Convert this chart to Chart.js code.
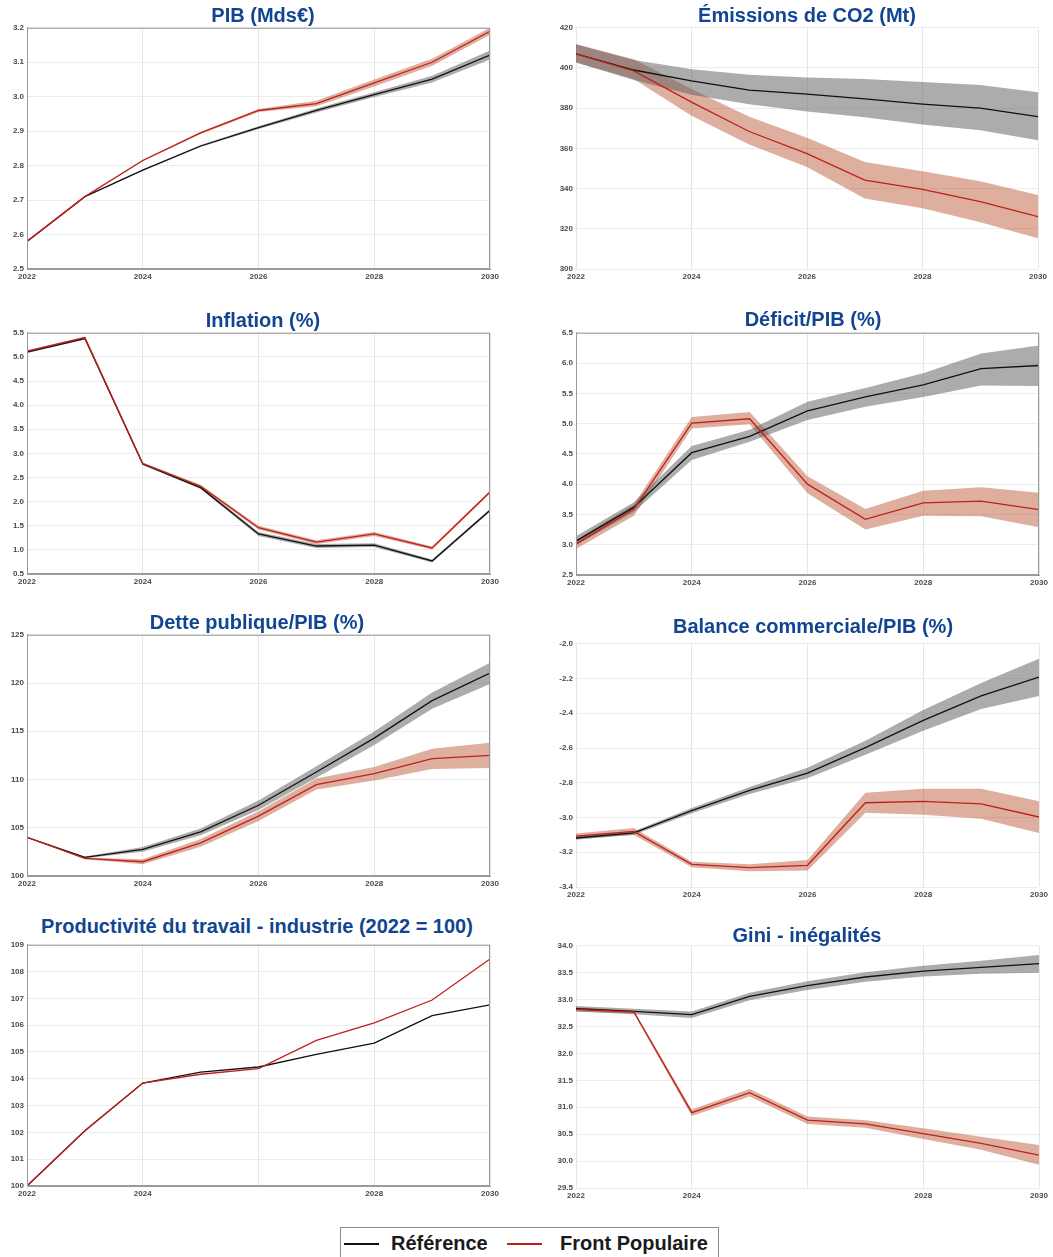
<!DOCTYPE html>
<html>
<head>
<meta charset="utf-8">
<script src="https://cdn.jsdelivr.net/npm/chart.js@4.4.1/dist/chart.umd.min.js"></script>
<style>
  body { margin: 0; background: #fff; }
  #page { position: relative; width: 1053px; height: 1257px; overflow: hidden; background: #fff; }
  .panel { position: absolute; }
  .title { position: absolute; font-family: "Liberation Sans Narrow", "Liberation Sans", sans-serif; font-weight: bold;
           font-size: 20px; line-height: 21px; color: #114592; white-space: nowrap; transform: translateX(-50%); }
  #legend { position: absolute; left: 340px; top: 1227px; width: 377px; height: 34px; border: 1px solid #8a8a8a;
            font-family: "Liberation Sans Narrow", "Liberation Sans", sans-serif; font-weight: bold; font-size: 20px; color: #1a1a1a; }
  #legend span { position: absolute; top: 4px; }
  #legend i { position: absolute; top: 15px; height: 2px; width: 35px; }
</style>
</head>
<body>
<div id="page">
  <div id="legend">
    <i style="left:3px;background:#111"></i><span style="left:50px">Référence</span>
    <i style="left:166px;background:#c0201b"></i><span style="left:219px">Front Populaire</span>
  </div>
</div>
<script>
const years = [2022, 2023, 2024, 2025, 2026, 2027, 2028, 2029, 2030];

// PIB (Mds€)
const pibRef = [2.58, 2.71, 2.787, 2.857, 2.91, 2.96, 3.006, 3.051, 3.121];
const pibRefHi = [2.58, 2.71, 2.789, 2.86, 2.914, 2.966, 3.013, 3.061, 3.134];
const pibRefLo = [2.58, 2.71, 2.785, 2.854, 2.906, 2.954, 2.999, 3.041, 3.108];
const pibFP = [2.58, 2.71, 2.815, 2.895, 2.96, 2.98, 3.04, 3.10, 3.19];
const pibFPHi = [2.58, 2.71, 2.817, 2.898, 2.964, 2.988, 3.05, 3.11, 3.20];
const pibFPLo = [2.58, 2.71, 2.813, 2.892, 2.956, 2.972, 3.03, 3.09, 3.18];

// Émissions de CO2 (Mt)
const co2Ref = [407, 399, 393.6, 389, 387, 384.6, 382, 380, 375.8];
const co2RefHi = [411.8, 404, 399.4, 396.6, 395.3, 394.5, 393, 391.6, 387.9];
const co2RefLo = [402.7, 394, 386.7, 382, 378.3, 375.5, 371.9, 369, 364];
const co2FP = [407, 398.6, 383, 368.4, 357.4, 344.2, 339.6, 333.5, 326];
const co2FPHi = [411.8, 404.3, 389.5, 375.8, 365.3, 353.2, 348.6, 343.7, 336.8];
const co2FPLo = [402.7, 394.5, 376.3, 362, 350.8, 335.1, 330.2, 323.2, 315.3];

// Inflation (%)
const infRef = [5.10, 5.38, 2.78, 2.29, 1.33, 1.08, 1.10, 0.77, 1.82];
const infRefHi = [5.12, 5.40, 2.80, 2.32, 1.37, 1.12, 1.14, 0.80, 1.85];
const infRefLo = [5.08, 5.36, 2.76, 2.26, 1.29, 1.04, 1.06, 0.74, 1.79];
const infFP = [5.12, 5.40, 2.79, 2.32, 1.46, 1.16, 1.33, 1.04, 2.20];
const infFPHi = [5.14, 5.42, 2.81, 2.35, 1.50, 1.20, 1.37, 1.07, 2.23];
const infFPLo = [5.10, 5.38, 2.77, 2.29, 1.42, 1.12, 1.29, 1.01, 2.17];

// Déficit/PIB (%)
const defRef = [3.06, 3.62, 4.52, 4.79, 5.21, 5.44, 5.64, 5.91, 5.96];
const defRefHi = [3.14, 3.70, 4.63, 4.90, 5.36, 5.59, 5.83, 6.16, 6.29];
const defRefLo = [2.99, 3.54, 4.40, 4.70, 5.06, 5.28, 5.44, 5.63, 5.62];
const defFP = [3.01, 3.59, 5.01, 5.08, 4.00, 3.42, 3.69, 3.72, 3.58];
const defFPHi = [3.08, 3.67, 5.11, 5.19, 4.13, 3.59, 3.89, 3.95, 3.86];
const defFPLo = [2.93, 3.48, 4.92, 4.99, 3.85, 3.25, 3.48, 3.47, 3.29];

// Dette publique/PIB (%)
const detRef = [104.0, 101.93, 102.76, 104.58, 107.33, 110.78, 114.29, 118.18, 121.04];
const detRefHi = [104.0, 102.03, 103.01, 104.93, 107.83, 111.38, 114.99, 119.03, 122.1];
const detRefLo = [104.0, 101.83, 102.51, 104.23, 106.83, 110.18, 113.59, 117.33, 119.9];
const detFP = [104.0, 101.83, 101.48, 103.44, 106.2, 109.47, 110.6, 112.16, 112.5];
const detFPHi = [104.0, 101.93, 101.73, 103.84, 106.7, 110.1, 111.3, 113.2, 113.8];
const detFPLo = [104.0, 101.73, 101.23, 103.04, 105.7, 108.96, 109.9, 111.1, 111.2];

// Balance commerciale/PIB (%)
const balRef = [-3.118, -3.089, -2.96, -2.844, -2.744, -2.598, -2.441, -2.30, -2.192];
const balRefHi = [-3.108, -3.079, -2.945, -2.824, -2.714, -2.558, -2.381, -2.225, -2.086];
const balRefLo = [-3.128, -3.099, -2.975, -2.864, -2.774, -2.638, -2.501, -2.375, -2.30];
const balFP = [-3.107, -3.08, -3.27, -3.289, -3.275, -2.915, -2.907, -2.921, -2.997];
const balFPHi = [-3.092, -3.06, -3.254, -3.269, -3.245, -2.857, -2.834, -2.834, -2.907];
const balFPLo = [-3.122, -3.10, -3.286, -3.309, -3.305, -2.972, -2.984, -3.007, -3.089];

// Productivité du travail - industrie (2022 = 100)
const proRef = [100, 102.06, 103.84, 104.25, 104.44, 104.91, 105.33, 106.36, 106.76];
const proFP = [100, 102.06, 103.84, 104.17, 104.38, 105.43, 106.09, 106.94, 108.47];

// Gini - inégalités
const giniRef = [32.83, 32.78, 32.72, 33.06, 33.26, 33.42, 33.53, 33.60, 33.67];
const giniRefHi = [32.88, 32.83, 32.78, 33.13, 33.34, 33.51, 33.63, 33.72, 33.83];
const giniRefLo = [32.78, 32.73, 32.66, 32.99, 33.18, 33.33, 33.43, 33.48, 33.50];
const giniFP = [32.82, 32.77, 30.90, 31.27, 30.76, 30.69, 30.51, 30.33, 30.11];
const giniFPHi = [32.86, 32.80, 30.96, 31.34, 30.83, 30.76, 30.61, 30.45, 30.30];
const giniFPLo = [32.78, 32.74, 30.84, 31.20, 30.69, 30.62, 30.41, 30.21, 29.93];

const LINE_REF = '#111111';
const LINE_FP = '#c0201b';
const BAND_REF = 'rgba(95, 95, 95, 0.52)';
const BAND_FP = 'rgba(180, 70, 35, 0.44)';

// plot boxes (left, top, right, bottom) and title positions
const panels = [
  { title: 'PIB (Mds€)', box: [27, 27, 490, 269], titleX: 263, titleY: 5, min: 2.5, max: 3.2, step: 0.1, dec: 1, frame: true,
    ref: pibRef, refHi: pibRefHi, refLo: pibRefLo, fp: pibFP, fpHi: pibFPHi, fpLo: pibFPLo },
  { title: 'Émissions de CO2 (Mt)', box: [576, 27, 1038, 269], titleX: 807, titleY: 5, min: 300, max: 420, step: 20, dec: 0, frame: false,
    ref: co2Ref, refHi: co2RefHi, refLo: co2RefLo, fp: co2FP, fpHi: co2FPHi, fpLo: co2FPLo },
  { title: 'Inflation (%)', box: [27, 332, 490, 574], titleX: 263, titleY: 310, min: 0.5, max: 5.5, step: 0.5, dec: 1, frame: true,
    ref: infRef, refHi: infRefHi, refLo: infRefLo, fp: infFP, fpHi: infFPHi, fpLo: infFPLo },
  { title: 'Déficit/PIB (%)', box: [576, 332, 1039, 575], titleX: 813, titleY: 309, min: 2.5, max: 6.5, step: 0.5, dec: 1, frame: true,
    ref: defRef, refHi: defRefHi, refLo: defRefLo, fp: defFP, fpHi: defFPHi, fpLo: defFPLo },
  { title: 'Dette publique/PIB (%)', box: [27, 634, 490, 876], titleX: 257, titleY: 612, min: 100, max: 125, step: 5, dec: 0, frame: true,
    ref: detRef, refHi: detRefHi, refLo: detRefLo, fp: detFP, fpHi: detFPHi, fpLo: detFPLo },
  { title: 'Balance commerciale/PIB (%)', box: [576, 643, 1039, 887], titleX: 813, titleY: 616, min: -3.4, max: -2.0, step: 0.2, dec: 1, frame: false,
    ref: balRef, refHi: balRefHi, refLo: balRefLo, fp: balFP, fpHi: balFPHi, fpLo: balFPLo },
  { title: 'Productivité du travail - industrie (2022 = 100)', box: [27, 944, 490, 1186], titleX: 257, titleY: 916, min: 100, max: 109, step: 1, dec: 0, frame: true,
    ref: proRef, fp: proFP, skip2026: true },
  { title: 'Gini - inégalités', box: [576, 945, 1039, 1188], titleX: 807, titleY: 925, min: 29.5, max: 34.0, step: 0.5, dec: 1, frame: false,
    ref: giniRef, refHi: giniRefHi, refLo: giniRefLo, fp: giniFP, fpHi: giniFPHi, fpLo: giniFPLo, skip2026: true }
];

function toPoints(values){
    return values.map((v, i) => ({ x: years[i], y: v }));
}

function bandDatasets(hi, lo, color){
    return [
        { data: toPoints(hi), borderWidth: 0, pointRadius: 0, backgroundColor: color, fill: '+1', order: 2 },
        { data: toPoints(lo), borderWidth: 0, pointRadius: 0, backgroundColor: color, fill: false, order: 2 }
    ];
}

function makePanel(p){
    const page = document.getElementById('page');
    const yw = p.box[0] < 300 ? 27 : 36;
    const padTop = 7, xh = 15, padRight = 14;
    const left = p.box[0] - yw, top = p.box[1] - padTop;
    const width = p.box[2] - left + padRight;
    const height = p.box[3] - top + xh;

    const wrap = document.createElement('div');
    wrap.className = 'panel';
    wrap.style.left = left + 'px';
    wrap.style.top = top + 'px';
    wrap.style.width = width + 'px';
    wrap.style.height = height + 'px';
    const canvas = document.createElement('canvas');
    wrap.append(canvas);
    page.append(wrap);

    const title = document.createElement('div');
    title.className = 'title';
    title.innerText = p.title;
    title.style.left = p.titleX + 'px';
    title.style.top = p.titleY + 'px';
    page.append(title);

    let datasets = [];
    if (p.refHi) datasets = datasets.concat(bandDatasets(p.refHi, p.refLo, BAND_REF));
    if (p.fpHi) datasets = datasets.concat(bandDatasets(p.fpHi, p.fpLo, BAND_FP));
    datasets.push({ label: 'Front Populaire', data: toPoints(p.fp), borderColor: LINE_FP, borderWidth: 1.3, pointRadius: 0, fill: false, order: 0 });
    datasets.push({ label: 'Référence', data: toPoints(p.ref), borderColor: LINE_REF, borderWidth: 1.3, pointRadius: 0, fill: false, order: 1 });

    const tickFont = { family: '"Liberation Sans", Arial, sans-serif', size: 8, weight: 'bold' };
    new Chart(canvas, {
        type: 'line',
        data: { datasets: datasets },
        options: {
            animation: false,
            responsive: true,
            maintainAspectRatio: false,
            layout: { padding: { top: padTop, right: padRight, left: 0, bottom: 0 } },
            plugins: { legend: { display: false }, tooltip: { enabled: false } },
            scales: {
                x: {
                    type: 'linear', min: 2022, max: 2030,
                    afterFit: s => { s.height = xh; },
                    ticks: {
                        stepSize: 2, padding: 3, maxRotation: 0, color: '#4a4a4a', font: tickFont,
                        callback: v => (p.skip2026 && v === 2026) ? '' : String(v)
                    },
                    grid: { color: '#e6e6e6', drawTicks: false },
                    border: { display: p.frame, color: '#9a9a9a' }
                },
                y: {
                    min: p.min, max: p.max,
                    afterFit: s => { s.width = yw; },
                    ticks: {
                        stepSize: p.step, padding: 3, color: '#4a4a4a', font: tickFont,
                        callback: v => v.toFixed(p.dec)
                    },
                    grid: { color: '#ececec', drawTicks: false },
                    border: { display: p.frame, color: '#9a9a9a' }
                }
            }
        },
        plugins: [{
            id: 'frame',
            afterDraw(chart){
                if (!p.frame) return;
                const a = chart.chartArea, ctx = chart.ctx;
                ctx.save();
                ctx.strokeStyle = '#9a9a9a';
                ctx.lineWidth = 1;
                ctx.strokeRect(a.left + 0.5, a.top + 0.5, a.right - a.left - 1, a.bottom - a.top - 1);
                ctx.restore();
            }
        }]
    });
}

panels.forEach(p => makePanel(p));
</script>
</body>
</html>
